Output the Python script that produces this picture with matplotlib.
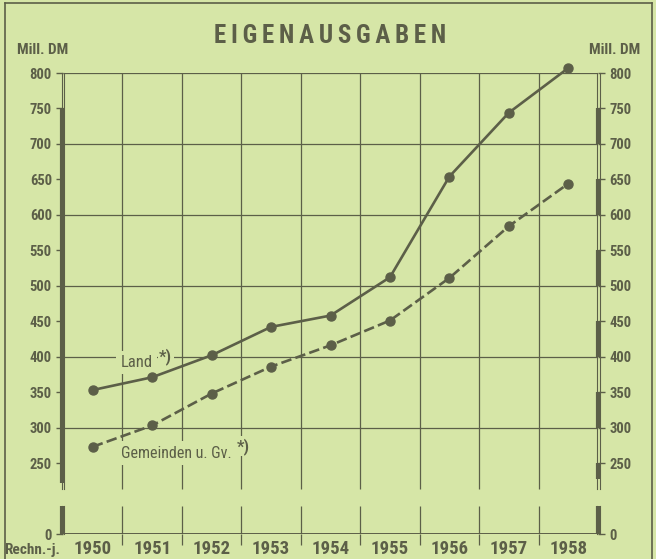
import numpy as np
import matplotlib
matplotlib.use("Agg")
import matplotlib.pyplot as plt
from matplotlib.lines import Line2D
from matplotlib import font_manager

# data
years = [1950, 1951, 1952, 1953, 1954, 1955, 1956, 1957, 1958]
land = [353, 371, 402, 442, 458, 512, 654, 744, 807]
gemeinden = [273, 303, 348, 386, 416, 451, 511, 584, 644]
yticks = [0, 250, 300, 350, 400, 450, 500, 550, 600, 650, 700, 750, 800]
grid_y = [300, 400, 500, 600, 700, 800]

BG = "#d6e6a7"
INK = "#5c5f48"

# pick a narrow face if one is around
fonts = font_manager.fontManager.ttflist
names = {f.name for f in fonts}
STRETCH = "normal"
FAM = "DejaVu Sans"
for cand in ["DejaVu Sans Condensed", "Liberation Sans Narrow", "Roboto Condensed"]:
    if cand in names:
        FAM = cand
        break
else:
    if any(f.name == "DejaVu Sans" and f.stretch == "condensed" for f in fonts):
        STRETCH = "condensed"
    elif "Roboto" in names:
        FAM = "Roboto"
plt.rcParams["font.family"] = [FAM, "DejaVu Sans"]
plt.rcParams["font.stretch"] = STRETCH


# broken axis: values below 200 squeezed into the strip above the baseline
def fwd(v):
    v = np.asarray(v, dtype=float)
    return np.where(v >= 200, v, 150 + v / 4)


def inv(t):
    t = np.asarray(t, dtype=float)
    return np.where(t >= 200, t, (t - 150) * 4)


fig = plt.figure(figsize=(6.56, 5.59), dpi=100, facecolor=BG)
ax = fig.add_axes([63 / 656, 1 - 534 / 559, 535 / 656, (534 - 73) / 559])
ax.set_facecolor(BG)
ax.set_yscale("function", functions=(fwd, inv))
ax.set_ylim(0, 800)
ax.set_xlim(1949.5, 1958.5)
for s in ax.spines.values():
    s.set_visible(False)

gap_top, gap_bot = 214, 158
ytr = ax.get_yaxis_transform()

# horizontal grid
ax.hlines(grid_y, 0, 1, transform=ytr, color=INK, lw=0.9, zorder=1)
# vertical grid, broken
xs = np.arange(1950.5, 1958.5)
ax.vlines(xs, gap_top, 800, color=INK, lw=0.9, zorder=1)
ax.vlines(xs, 0, gap_bot, color=INK, lw=0.9, zorder=1)
# baseline
ax.hlines([0], 0, 1, transform=ytr, color=INK, lw=1.4, zorder=2)

# double axis lines with thick bands
px = 1 / 535
for x in (-1.5 * px, 1 * px, 1 - 1 * px, 1 + 1.5 * px):
    for a, b in [(gap_top, 800), (0, gap_bot)]:
        ax.add_line(Line2D([x, x], [a, b], transform=ytr, color=INK,
                           lw=0.8, clip_on=False))
ax.add_line(Line2D([-1.5 * px] * 2, [222, 750], transform=ytr, color=INK,
                   lw=3, clip_on=False, solid_capstyle="butt"))
for a, b in [(700, 750), (600, 650), (500, 550), (400, 450), (300, 350), (228, 250)]:
    ax.add_line(Line2D([1 - 0.5 * px] * 2, [a, b], transform=ytr, color=INK,
                       lw=3, clip_on=False, solid_capstyle="butt"))
for x in (-1.5 * px, 1 - 0.5 * px):
    ax.add_line(Line2D([x] * 2, [0, gap_bot], transform=ytr, color=INK,
                       lw=3, clip_on=False, solid_capstyle="butt"))

# series
ax.plot(years, land, color=INK, lw=1.9, marker="o", ms=6.5, clip_on=False, zorder=4)
ax.plot(years, gemeinden, color=INK, lw=1.9, marker="o", ms=6.5, clip_on=False,
        zorder=4, dashes=(4, 1.6))

# ticks
ax.set_yticks(yticks)
ax.set_yticklabels([str(t) for t in yticks])
ax.set_xticks(years)
ax.set_xticklabels([str(y) for y in years])
ax.set_xticks(xs, minor=True)
ax.tick_params(axis="y", which="both", direction="out", length=5, width=1,
               color=INK, labelcolor=INK, labelsize=10.5, left=True, right=True,
               labelleft=True, labelright=True, pad=3)
ax.tick_params(axis="x", which="major", length=0, labelcolor=INK,
               labelsize=13.5, pad=4)
ax.tick_params(axis="x", which="minor", direction="out", length=8, width=0.9,
               color=INK)
for lab in ax.get_yticklabels() + ax.get_xticklabels():
    lab.set_fontweight("bold")

# labels
fig.text(43 / 656, 1 - 50 / 559, "Mill. DM", color=INK, fontsize=11,
         fontweight="bold", ha="center", va="center")
fig.text(615 / 656, 1 - 50 / 559, "Mill. DM", color=INK, fontsize=11,
         fontweight="bold", ha="center", va="center")
fig.text(32 / 656, 1 - 550 / 559, "Rechn.-j.", color=INK, fontsize=11,
         fontweight="bold", ha="center", va="center")
fig.text(330 / 656, 1 - 36 / 559,
         "\u2009".join("EIGENAUSGABEN"),
         color=INK, fontsize=18, fontweight="bold", ha="center", va="center")

ax.text(1950.47, 392, "Land", color=INK, fontsize=12, ha="left",
        va="center", zorder=3,
        bbox=dict(boxstyle="square,pad=0.25", fc=BG, ec="none"))
ax.text(1951.12, 400, "*)", color=INK, fontsize=12, fontweight="bold",
        ha="left", va="center", zorder=3,
        bbox=dict(boxstyle="square,pad=0.1", fc=BG, ec="none"))
ax.text(1950.47, 264, "Gemeinden u. Gv.", color=INK, fontsize=11.5,
        ha="left", va="center", zorder=3,
        bbox=dict(boxstyle="square,pad=0.3", fc=BG, ec="none"))
ax.text(1952.43, 274, "*)", color=INK, fontsize=12, fontweight="bold",
        ha="left", va="center", zorder=3,
        bbox=dict(boxstyle="square,pad=0.1", fc=BG, ec="none"))

# outer frame of the scan
for xy in [([5 / 656, 5 / 656], [0, 1 - 3 / 559]),
           ([5 / 656, 652 / 656], [1 - 3 / 559, 1 - 3 / 559]),
           ([652 / 656, 652 / 656], [0, 1 - 3 / 559])]:
    fig.add_artist(Line2D(xy[0], xy[1], transform=fig.transFigure,
                          color=INK, lw=1.2))

fig.savefig("out.png", dpi=100, facecolor=BG)
